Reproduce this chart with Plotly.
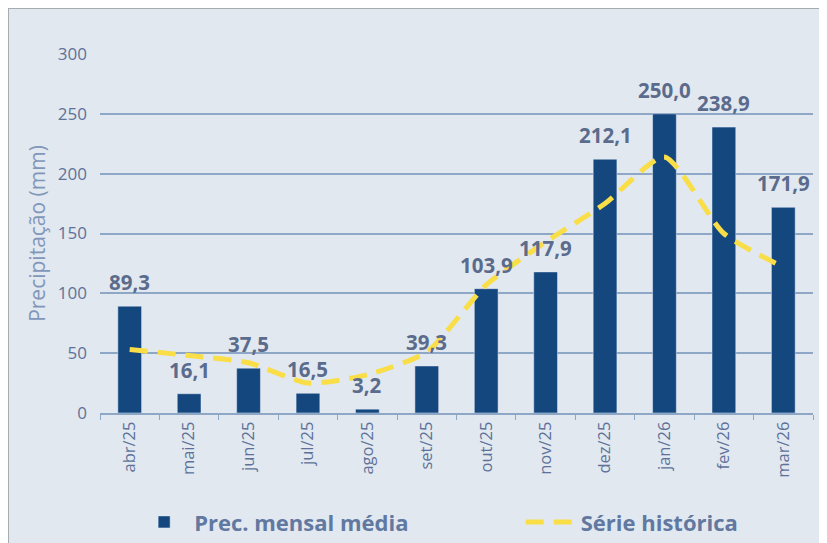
import plotly.graph_objects as go

months = ["abr/25", "mai/25", "jun/25", "jul/25", "ago/25", "set/25",
          "out/25", "nov/25", "dez/25", "jan/26", "fev/26", "mar/26"]
prec_mensal = [89.3, 16.1, 37.5, 16.5, 3.2, 39.3, 103.9, 117.9, 212.1, 250.0, 238.9, 171.9]
serie_historica = [53, 48, 42, 25, 32, 51, 107, 143, 175, 214, 150, 122]
y_ticks = [0, 50, 100, 150, 200, 250, 300]

FONT = "Open Sans"
BAR = "#15477F"
YELLOW = "#F9DE47"
TXT = "#5B6B8C"

fig = go.Figure()
fig.add_trace(go.Bar(x=months, y=prec_mensal, name="Prec. mensal média",
                     marker_color=BAR, width=0.4, legend="legend"))
fig.add_trace(go.Scatter(x=months, y=serie_historica, name="Série histórica", legend="legend2",
                         mode="lines", line=dict(color=YELLOW, width=5, dash="18px,10px",
                                                 shape="spline", smoothing=0.6)))

for m, v in zip(months, prec_mensal):
    fig.add_annotation(x=m, y=v, text=f"{v:.1f}".replace(".", ","), showarrow=False,
                       yanchor="bottom", yshift=8,
                       font=dict(family=FONT, size=20.5, color=TXT, weight="bold"))

# outer frame border
fig.add_shape(type="rect", xref="paper", yref="paper", x0=-0.129, x1=1.05, y0=-0.45, y1=1.128,
              fillcolor="rgba(0,0,0,0)", line=dict(color="#A9ACAF", width=2), layer="below")

legend_font = dict(family=FONT, size=22, color="#6178A0", weight="bold")
fig.update_layout(
    width=819, height=535,
    margin=dict(l=92, r=14, t=46, b=130, autoexpand=False),
    paper_bgcolor="#E1E8F0", plot_bgcolor="rgba(0,0,0,0)",
    font=dict(family=FONT, color="#5E7299"),
    bargap=0.6,
    showlegend=True,
    legend=dict(orientation="h", xref="container", yref="container",
                x=0.154, y=0.039, xanchor="left", yanchor="middle",
                itemwidth=50, font=legend_font, bgcolor="rgba(0,0,0,0)"),
    legend2=dict(orientation="h", xref="container", yref="container",
                 x=0.626, y=0.039, xanchor="left", yanchor="middle",
                 itemwidth=50, font=legend_font, bgcolor="rgba(0,0,0,0)"),
)
fig.update_xaxes(showline=True, linecolor="#8FA7C7", linewidth=2,
                 ticks="outside", tickson="boundaries", ticklen=5, tickcolor="#8FA7C7",
                 tickangle=-90, tickfont=dict(size=16.5, color="#5E7299"))
fig.update_yaxes(range=[0, 300], tickvals=y_ticks, showgrid=True, gridcolor="#8FA7C7",
                 gridwidth=1.5, zeroline=False, ticks="", ticklen=0, ticklabelstandoff=12,
                 tickfont=dict(size=17, color="#5E7299"),
                 title=dict(text="Precipitação (mm)", font=dict(size=21, color="#8197BA"), standoff=6))

fig.write_html("out.html")
